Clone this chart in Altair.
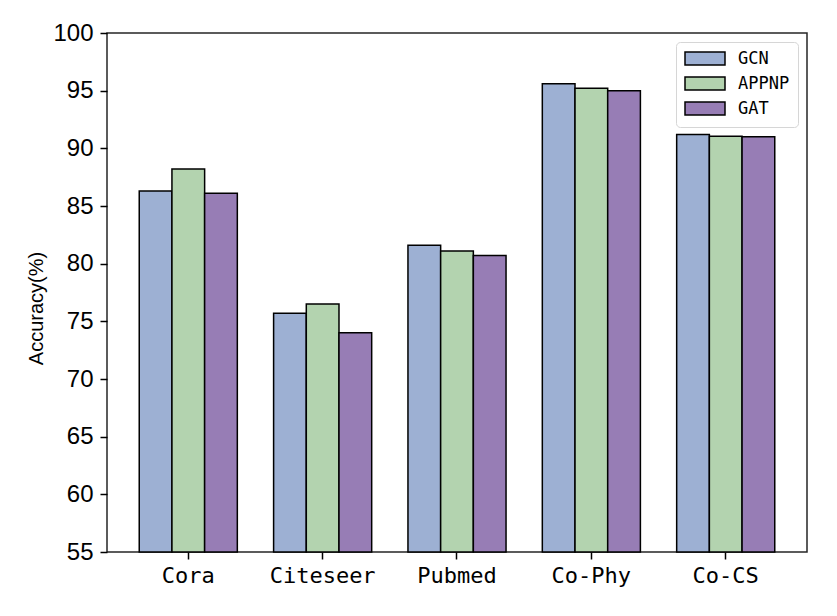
import altair as alt
import pandas as pd

datasets = ["Cora", "Citeseer", "Pubmed", "Co-Phy", "Co-CS"]
models = ["GCN", "APPNP", "GAT"]
gcn = [86.3, 75.7, 81.6, 95.6, 91.2]
appnp = [88.2, 76.5, 81.1, 95.2, 91.05]
gat = [86.1, 74.0, 80.7, 95.0, 91.0]
colors = ["#9DB0D3", "#B3D3AF", "#977DB5"]
y_ticks = [55, 60, 65, 70, 75, 80, 85, 90, 95, 100]

rows = []
for m, vals in zip(models, [gcn, appnp, gat]):
    for d, v in zip(datasets, vals):
        rows.append({"Dataset": d, "Model": m, "Accuracy": v})
df = pd.DataFrame(rows)

bars = alt.Chart(df).mark_bar(stroke="black", strokeWidth=1.5).encode(
    x=alt.X("Dataset:N", sort=datasets, title=None,
            scale=alt.Scale(paddingInner=0.27, paddingOuter=0.24),
            axis=alt.Axis(labelAngle=0, labelFont="DejaVu Sans Mono", labelFontSize=22,
                          labelColor="black", labelPadding=6, tickSize=7,
                          tickColor="black", tickWidth=1.5, domain=False)),
    xOffset=alt.XOffset("Model:N", sort=models,
                        scale=alt.Scale(paddingInner=0, paddingOuter=0)),
    y=alt.Y("Accuracy:Q",
            scale=alt.Scale(domain=[55, 100], nice=False, zero=False),
            axis=alt.Axis(values=y_ticks, grid=False, title="Accuracy(%)",
                          labelFont="Liberation Sans", labelFontSize=24, labelColor="black",
                          labelPadding=7, tickSize=7, tickColor="black", tickWidth=1.5,
                          domain=False, titleFont="Liberation Sans", titleFontSize=20,
                          titleFontWeight="normal", titleColor="black",
                          titleX=-61, titleY=275, titleBaseline="bottom")),
    y2=alt.datum(55),
    fill=alt.Fill("Model:N", sort=models,
                  scale=alt.Scale(domain=models, range=colors),
                  legend=alt.Legend(title=None, orient="none", legendX=569, legendY=9,
                                    symbolType="M-1,-0.867L4.333,-0.867L4.333,0.867L-1,0.867Z",
                                    symbolSize=225, symbolStrokeColor="black",
                                    symbolStrokeWidth=1.5, symbolOpacity=1,
                                    labelFont="DejaVu Sans Mono", labelFontSize=17,
                                    labelColor="black", labelOffset=37,
                                    rowPadding=4, padding=8,
                                    fillColor="white", strokeColor="#D6D6D6",
                                    cornerRadius=4)),
)

chart = bars.properties(
    width=700, height=519,
    autosize=alt.AutoSizeParams(type="none"),
    padding={"left": 99, "top": 25, "right": 22, "bottom": 56},
).configure(background="white").configure_view(stroke="#262626", strokeWidth=1.5)

chart.save("out.html", embed_options={"renderer": "svg", "actions": False})
